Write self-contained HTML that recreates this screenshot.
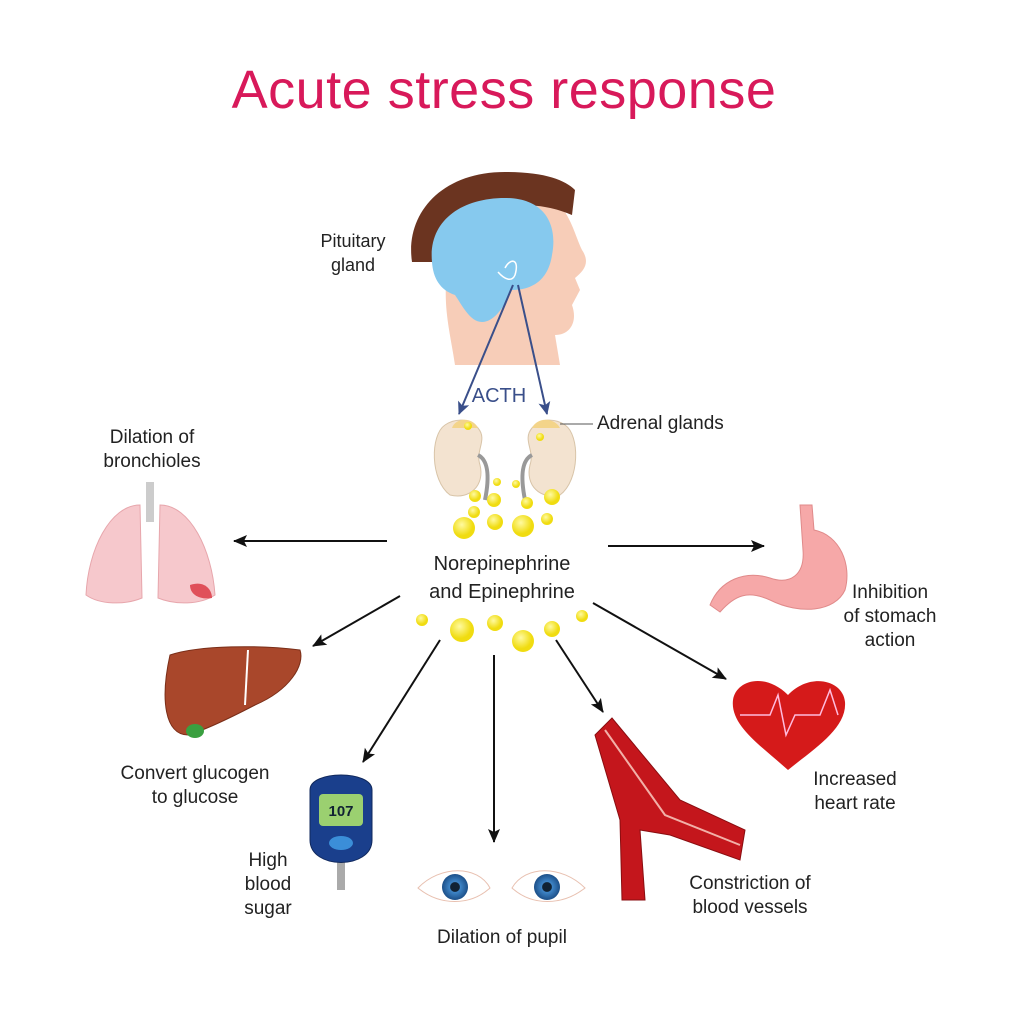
<!DOCTYPE html>
<html><head><meta charset="utf-8"><style>
html,body{margin:0;padding:0;background:#fff;}
svg{display:block;}
text{font-family:"Liberation Sans",sans-serif;fill:#222;}
</style></head><body>
<svg width="1024" height="1024" viewBox="0 0 1024 1024" xmlns="http://www.w3.org/2000/svg">
<defs>
<marker id="ab" markerWidth="14" markerHeight="14" refX="13" refY="7" orient="auto" markerUnits="userSpaceOnUse"><path d="M0,1 L14,7 L0,13 L3,7 Z" fill="#111"/></marker>
<marker id="abl" markerWidth="14" markerHeight="14" refX="12" refY="7" orient="auto" markerUnits="userSpaceOnUse"><path d="M0,1 L13,7 L0,13 L3,7 Z" fill="#3a4f8a"/></marker>
<radialGradient id="dot" cx="40%" cy="35%"><stop offset="0" stop-color="#fffaa0"/><stop offset="1" stop-color="#f0dc10"/></radialGradient>
<radialGradient id="iris"><stop offset="0" stop-color="#123"/><stop offset="0.35" stop-color="#123"/><stop offset="0.4" stop-color="#3f86c8"/><stop offset="1" stop-color="#1c4f88"/></radialGradient>
</defs>
<text x="504" y="108" text-anchor="middle" font-size="54" style="fill:#d8195a;font-family:'Liberation Sans',sans-serif;letter-spacing:0.5px">Acute stress response</text>

<!-- head -->
<path d="M450,255 C440,300 450,330 455,365 L560,365 L555,335 C570,335 578,322 572,305 L580,290 L575,278 C585,270 590,262 582,250 C575,235 572,220 560,205 L450,200 Z" fill="#f7cdb8"/>
<path d="M412,262 C405,215 440,172 505,172 C545,172 565,180 575,190 L572,215 C560,210 545,205 520,205 C470,205 440,225 440,262 Z" fill="#6b3420"/>
<path d="M432,262 C428,222 460,198 505,198 C545,198 558,225 552,255 C548,282 530,290 512,290 C505,305 495,322 482,322 C470,322 462,305 455,295 C440,290 433,278 432,262 Z" fill="#86c9ee"/>
<path d="M505,268 C510,258 520,258 515,275 M498,272 C505,280 512,282 515,275" stroke="#fff" stroke-width="1.5" fill="none"/>
<text x="353" y="247" text-anchor="middle" font-size="18">Pituitary</text>
<text x="353" y="271" text-anchor="middle" font-size="18">gland</text>
<line x1="513" y1="285" x2="459" y2="414" stroke="#3a4f8a" stroke-width="2" marker-end="url(#abl)"/>
<line x1="518" y1="285" x2="547" y2="414" stroke="#3a4f8a" stroke-width="2" marker-end="url(#abl)"/>
<text x="499" y="402" text-anchor="middle" font-size="20" style="fill:#3a4f8a">ACTH</text>

<!-- kidneys -->
<path d="M445,425 C430,435 430,480 450,495 C470,500 485,485 480,465 C475,450 488,440 478,428 C470,418 455,418 445,425 Z" fill="#f3e3d0" stroke="#d8c4a8"/>
<path d="M565,425 C580,435 580,480 560,495 C540,500 525,485 530,465 C535,450 522,440 532,428 C540,418 555,418 565,425 Z" fill="#f3e3d0" stroke="#d8c4a8"/>
<path d="M452,428 C455,418 472,416 478,428 Z" fill="#f3d48a"/>
<path d="M532,428 C538,416 555,418 560,428 Z" fill="#f3d48a"/>
<path d="M478,455 C488,460 490,475 485,500" stroke="#999" stroke-width="4" fill="none"/>
<path d="M532,455 C522,460 520,475 525,500" stroke="#999" stroke-width="4" fill="none"/>
<line x1="560" y1="424" x2="593" y2="424" stroke="#555" stroke-width="1"/>
<text x="597" y="429" font-size="19">Adrenal glands</text>

<!-- dots -->
<g fill="url(#dot)">
<circle cx="475" cy="496" r="6"/><circle cx="494" cy="500" r="7"/><circle cx="474" cy="512" r="6"/><circle cx="552" cy="497" r="8"/><circle cx="527" cy="503" r="6"/><circle cx="464" cy="528" r="11"/><circle cx="495" cy="522" r="8"/><circle cx="523" cy="526" r="11"/><circle cx="547" cy="519" r="6"/><circle cx="497" cy="482" r="4"/><circle cx="516" cy="484" r="4"/>
<circle cx="422" cy="620" r="6"/><circle cx="462" cy="630" r="12"/><circle cx="495" cy="623" r="8"/><circle cx="523" cy="641" r="11"/><circle cx="552" cy="629" r="8"/><circle cx="582" cy="616" r="6"/><circle cx="540" cy="437" r="4"/><circle cx="468" cy="426" r="4"/>
</g>
<text x="502" y="570" text-anchor="middle" font-size="20">Norepinephrine</text>
<text x="502" y="598" text-anchor="middle" font-size="20">and Epinephrine</text>

<!-- arrows -->
<g stroke="#111" stroke-width="2" fill="none" marker-end="url(#ab)">
<line x1="387" y1="541" x2="234" y2="541"/>
<line x1="608" y1="546" x2="764" y2="546"/>
<line x1="400" y1="596" x2="313" y2="646"/>
<line x1="440" y1="640" x2="363" y2="762"/>
<line x1="494" y1="655" x2="494" y2="842"/>
<line x1="556" y1="640" x2="603" y2="712"/>
<line x1="593" y1="603" x2="726" y2="679"/>
</g>

<!-- lungs -->
<text x="152" y="443" text-anchor="middle" font-size="19">Dilation of</text>
<text x="152" y="467" text-anchor="middle" font-size="19">bronchioles</text>
<rect x="146" y="482" width="8" height="40" fill="#ccc"/>
<path d="M140,505 C110,505 88,550 86,595 C100,605 125,605 142,598 Z" fill="#f6c8cc" stroke="#e7a6ac"/>
<path d="M160,505 C190,505 212,550 215,595 C200,605 175,605 158,598 Z" fill="#f6c8cc" stroke="#e7a6ac"/>
<path d="M190,585 C205,580 212,590 212,598 C200,600 190,595 190,585 Z" fill="#e0505a"/>

<!-- stomach -->
<path d="M800,505 L812,505 L814,530 C840,535 852,565 845,590 C835,612 800,615 770,600 C748,590 735,595 720,612 L710,605 C720,580 745,570 770,578 C790,585 805,575 803,550 Z" fill="#f6a8a8" stroke="#e08a8a"/>
<text x="890" y="598" text-anchor="middle" font-size="19">Inhibition</text>
<text x="890" y="622" text-anchor="middle" font-size="19">of stomach</text>
<text x="890" y="646" text-anchor="middle" font-size="19">action</text>

<!-- liver -->
<path d="M170,655 C200,645 260,645 300,650 C305,665 290,690 255,705 C230,718 205,730 188,735 C165,735 160,700 170,655 Z" fill="#a9472b" stroke="#7a2e18"/>
<line x1="248" y1="650" x2="245" y2="705" stroke="#fff" stroke-width="2"/>
<ellipse cx="195" cy="731" rx="9" ry="7" fill="#3aa040"/>
<text x="195" y="779" text-anchor="middle" font-size="19">Convert glucogen</text>
<text x="195" y="803" text-anchor="middle" font-size="19">to glucose</text>

<!-- meter -->
<rect x="337" y="860" width="8" height="30" fill="#aaa"/>
<path d="M310,790 C310,770 372,770 372,790 L372,840 C372,870 310,870 310,840 Z" fill="#1a3f8c" stroke="#10285c"/>
<rect x="319" y="794" width="44" height="32" rx="4" fill="#9bd070"/>
<text x="341" y="816" text-anchor="middle" font-size="15" font-weight="bold" style="fill:#123">107</text>
<ellipse cx="341" cy="843" rx="12" ry="7" fill="#3b8ed8"/>
<text x="268" y="866" text-anchor="middle" font-size="19">High</text>
<text x="268" y="890" text-anchor="middle" font-size="19">blood</text>
<text x="268" y="914" text-anchor="middle" font-size="19">sugar</text>

<!-- eyes -->
<path d="M418,888 C440,865 478,865 490,888 C470,906 440,906 418,888 Z" fill="#fff" stroke="#e8c0b0"/>
<circle cx="455" cy="887" r="13" fill="url(#iris)"/>
<path d="M512,888 C525,865 562,865 585,888 C562,906 532,906 512,888 Z" fill="#fff" stroke="#e8c0b0"/>
<circle cx="547" cy="887" r="13" fill="url(#iris)"/>
<text x="502" y="943" text-anchor="middle" font-size="19">Dilation of pupil</text>

<!-- vessel -->
<path d="M595,735 L612,718 L680,800 L745,830 L740,860 L670,835 L640,830 L645,900 L622,900 L620,820 Z" fill="#c4161c" stroke="#8a0d10"/>
<path d="M605,730 L665,815 L740,845" stroke="#f2b0a8" stroke-width="2" fill="none"/>
<text x="750" y="889" text-anchor="middle" font-size="19">Constriction of</text>
<text x="750" y="913" text-anchor="middle" font-size="19">blood vessels</text>

<!-- heart -->
<path d="M788,770 C760,745 730,725 733,700 C736,680 765,672 788,695 C810,672 843,680 845,702 C847,728 815,748 788,770 Z" fill="#d51a1a"/>
<path d="M740,715 L770,715 L778,695 L786,735 L795,715 L820,715 L830,690 L838,715" stroke="#fbd" stroke-width="1.5" fill="none"/>
<text x="855" y="785" text-anchor="middle" font-size="19">Increased</text>
<text x="855" y="809" text-anchor="middle" font-size="19">heart rate</text>
</svg>
</body></html>
